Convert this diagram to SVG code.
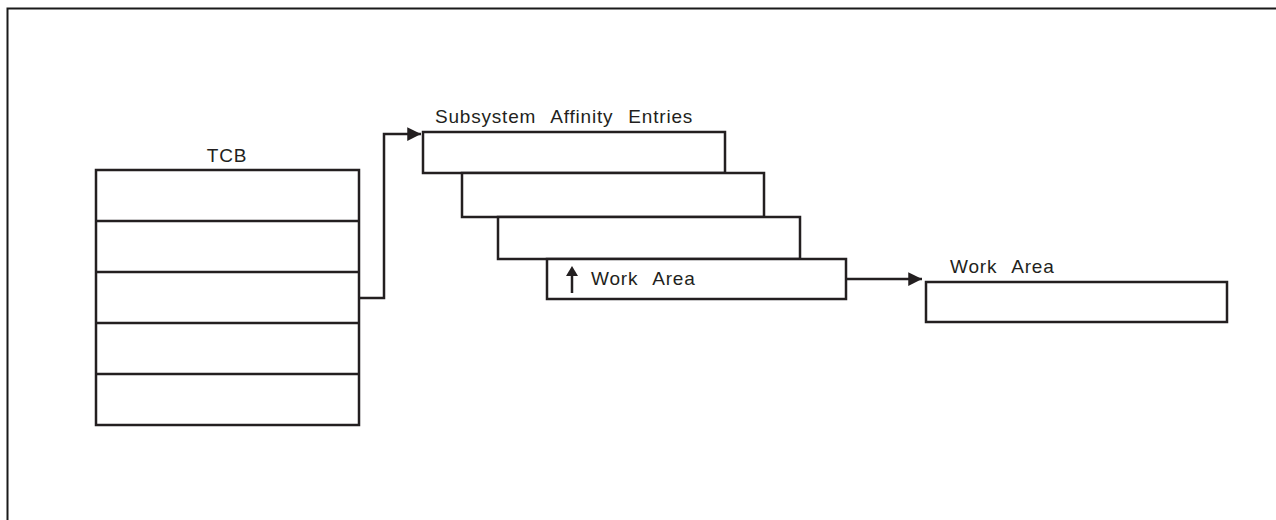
<svg xmlns="http://www.w3.org/2000/svg" width="1276" height="520" viewBox="0 0 1276 520">
  <style>
    .box { fill: #ffffff; stroke: #231f20; stroke-width: 2.5; }
    .line { fill: none; stroke: #231f20; stroke-width: 2.5; }
    .frame { fill: none; stroke: #1a1a1a; stroke-width: 2; }
    .label { font-family: "Liberation Sans", Arial, sans-serif; font-size: 19px; fill: #231f20; letter-spacing: 0.8px; word-spacing: 9px; }
  </style>
  <defs>
    <marker id="arrow" viewBox="0 0 10 10" refX="10" refY="5" markerWidth="5.5" markerHeight="5.5" orient="auto" markerUnits="strokeWidth">
      <path d="M0,0 L10,5 L0,10 z" fill="#231f20"/>
    </marker>
  </defs>

  <!-- page frame (top and left edges only) -->
  <path class="frame" d="M7.5,520 V8.5 H1276"/>

  <!-- TCB: stacked control block -->
  <g id="tcb">
    <text class="label" x="227" y="162" text-anchor="middle">TCB</text>
    <rect class="box" x="96" y="170" width="263" height="255"/>
    <line class="line" x1="96" y1="221" x2="359" y2="221"/>
    <line class="line" x1="96" y1="272" x2="359" y2="272"/>
    <line class="line" x1="96" y1="323" x2="359" y2="323"/>
    <line class="line" x1="96" y1="374" x2="359" y2="374"/>
  </g>

  <!-- Subsystem affinity entries, cascaded -->
  <g id="affinity-entries">
    <text class="label" x="435" y="123">Subsystem Affinity Entries</text>
    <rect class="box" x="423" y="132" width="302" height="41"/>
    <rect class="box" x="462" y="173" width="302" height="44"/>
    <rect class="box" x="498" y="217" width="302" height="42"/>
    <rect class="box" x="547" y="259" width="299" height="40"/>
    <line class="line" x1="572" y1="293" x2="572" y2="274"/>
    <path d="M566,276 L572,266 L578,276 z" fill="#231f20"/>
    <text class="label" x="591" y="285">Work Area</text>
  </g>

  <!-- Work area block -->
  <g id="work-area">
    <text class="label" x="950" y="273">Work Area</text>
    <rect class="box" x="926" y="282" width="301" height="40"/>
  </g>

  <!-- connectors -->
  <g id="connectors">
    <path class="line" d="M359,298 H384 V134 H421" marker-end="url(#arrow)"/>
    <path class="line" d="M846,279 H922" marker-end="url(#arrow)"/>
  </g>
</svg>
